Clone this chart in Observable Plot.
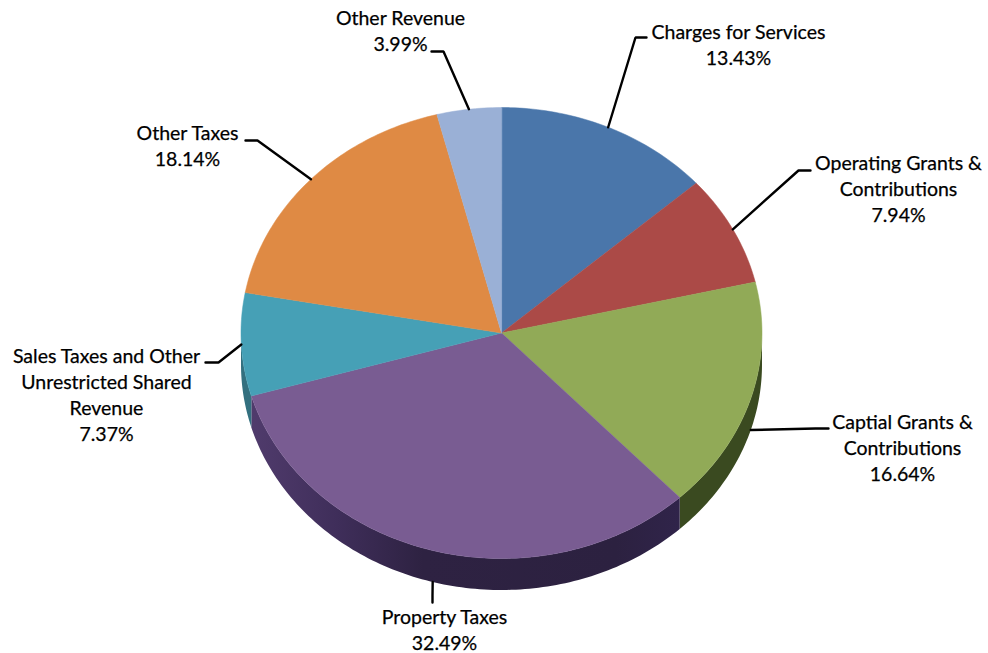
<!DOCTYPE html>
<html>
<head>
<meta charset="utf-8">
<script src="https://cdn.jsdelivr.net/npm/d3@7"></script>
<script src="https://cdn.jsdelivr.net/npm/@observablehq/plot@0.6"></script>
<style>
  html, body { margin: 0; padding: 0; background: #fff; }
  svg { display: block; }
</style>
</head>
<body>
<div id="chart"></div>
<script>
// Revenue sources, share of the total in percent
const categories = [
  "Charges for Services",
  "Operating Grants &\nContributions",
  "Captial Grants &\nContributions",
  "Property Taxes",
  "Sales Taxes and Other\nUnrestricted Shared\nRevenue",
  "Other Taxes",
  "Other Revenue"
];
const shares = [13.43, 7.94, 16.64, 32.49, 7.37, 18.14, 3.99];

// Fill of each top face and of the matching outer wall
const topColors = ["#4a76aa", "#ab4a47", "#91aa57", "#795c92", "#46a0b6", "#df8a44", "#9ab0d6"];
const wallColors = ["#2c4766", "#672c2a", "#3a4a20", "url(#purpleWall)", "#33707f", "#86532a", "#5d6a80"];

// Tilted-disc geometry
const center = [501, 332.5];
const radiusX = 260.5;
const radiusY = 225.5;
const depth = 31.5;

// Label placement: elbow of the leader, leader end, text centre, text top
const leaderElbows = [[635, 37], [798, 170], [815, 428], [432, 595], [218, 362], [257, 140], [443, 51]];
const leaderEnds = [[646, 37], [810, 170], [828, 428], [432, 602], [205, 362], [245, 140], [431, 51]];
const labelCenters = [738, 898, 902, 444, 106, 187, 400];
const labelTops = [20, 151, 409.5, 605, 344, 121, 6];

const rad = (turn) => turn * 2 * Math.PI;
const rim = (turn, drop = 0) => ({
  x: center[0] + radiusX * Math.sin(rad(turn)),
  y: center[1] + drop - radiusY * Math.cos(rad(turn))
});
const arc = (from, to, drop = 0) => {
  const steps = Math.max(2, Math.ceil(Math.abs(to - from) * 360));
  return d3.range(steps + 1).map((i) => rim(from + ((to - from) * i) / steps, drop));
};

// Turn the shares into start and end fractions of a clockwise circle from 12 o'clock
const total = d3.sum(shares);
let running = 0;
const slices = shares.map((share, i) => {
  const start = running / total;
  running += share;
  return {i, start, end: running / total, mid: (start + running / total) / 2};
});

// Outer wall: only the half of the rim that faces the viewer is visible
const wallMarks = slices.flatMap((s) => {
  const from = Math.max(s.start, 0.25);
  const to = Math.min(s.end, 0.75);
  if (from >= to) return [];
  const outline = [...arc(from, to), ...arc(to, from, depth)];
  return [Plot.line(outline, {x: "x", y: "y", fill: wallColors[s.i], stroke: "none", curve: "linear-closed"})];
});

const topMarks = slices.map((s) => {
  const outline = [{x: center[0], y: center[1]}, ...arc(s.start, s.end)];
  return Plot.line(outline, {x: "x", y: "y", fill: topColors[s.i], stroke: topColors[s.i], strokeWidth: 0.5, curve: "linear-closed"});
});

// Leaders start at each slice's mid angle; those well inside the front half start on the wall's lower edge
const leaderMarks = slices.map((s) => {
  const front = s.mid > 0.25 && s.mid < 0.7;
  const path = [
    rim(s.mid, front ? depth : 0),
    {x: leaderElbows[s.i][0], y: leaderElbows[s.i][1]},
    {x: leaderEnds[s.i][0], y: leaderEnds[s.i][1]}
  ];
  return Plot.line(path, {x: "x", y: "y", stroke: "#000", strokeWidth: 2.4, curve: "linear", strokeLinejoin: "miter"});
});

const labels = slices.map((s) => ({
  text: `${categories[s.i]}\n${shares[s.i].toFixed(2)}%`,
  x: labelCenters[s.i],
  y: labelTops[s.i]
}));

// Gradient for the long purple wall: lighter toward the left, where the light falls
const wallGradient = () => {
  const defs = d3.create("svg:defs");
  const g = defs.append("linearGradient").attr("id", "purpleWall");
  [[0, "#503b6c"], [0.2, "#3f2e5a"], [0.4, "#2e2242"], [0.85, "#2c2140"], [1, "#30244a"]].forEach(([o, c]) =>
    g.append("stop").attr("offset", o).attr("stop-color", c)
  );
  return defs.node();
};

const chart = Plot.plot({
  width: 988,
  height: 653,
  margin: 0,
  style: {background: "#fff", fontFamily: "Lato, sans-serif"},
  x: {domain: [0, 988], range: [0, 988], axis: null},
  y: {domain: [0, 653], range: [0, 653], axis: null},
  marks: [
    wallGradient,
    ...wallMarks,
    ...topMarks,
    ...leaderMarks,
    Plot.text(labels, {
      x: "x",
      y: "y",
      text: "text",
      lineAnchor: "top",
      lineHeight: 1.34,
      fontSize: 19.5,
      fill: "#000",
      stroke: "#000",
      strokeWidth: 0.25
    })
  ]
});
document.getElementById("chart").appendChild(chart);
</script>
</body>
</html>
